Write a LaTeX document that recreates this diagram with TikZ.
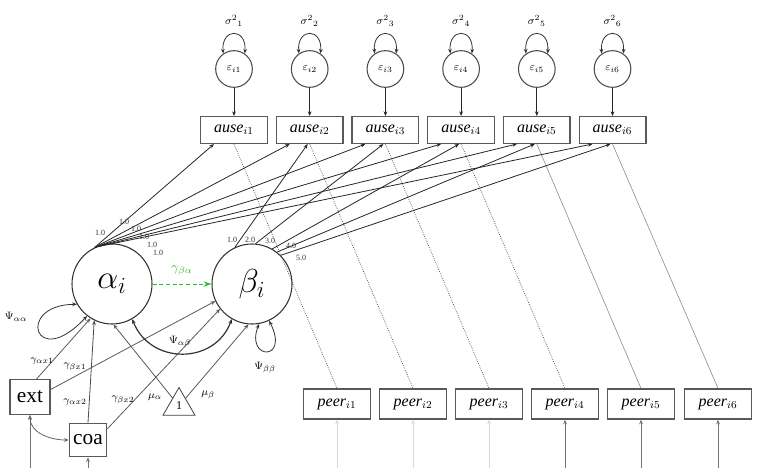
\documentclass[tikz,border=0pt]{standalone}
\usepackage{fontspec}
\setmainfont{Liberation Serif}
\usepackage{tikz}
\usetikzlibrary{arrows.meta,calc,positioning,shapes.geometric}
\definecolor{grn}{RGB}{40,190,40}

\begin{document}
\begin{tikzpicture}[x=0.75pt,y=0.75pt,
  >={Stealth[length=3.5pt,width=2.8pt]},
  lat/.style={circle,draw=black!80,line width=0.8pt,minimum size=60pt,inner sep=0pt},
  err/.style={circle,draw=black!70,line width=0.8pt,minimum size=27.5pt,inner sep=0pt,font=\fontsize{8}{8}\selectfont},
  obs/.style={rectangle,draw=black!65,line width=1pt,minimum width=50pt,minimum height=20pt,inner sep=1pt,font=\fontsize{12}{12}\selectfont},
  cov/.style={<->,black!80,line width=0.6pt},
  path/.style={->,black!85,line width=0.6pt},
  lbl/.style={font=\fontsize{8.5}{8.5}\selectfont,inner sep=0pt},
  ld/.style={font=\fontsize{6}{6}\selectfont,inner sep=0pt,text=black!80}]

\useasboundingbox (0,0) rectangle (760,-468);

% growth factors
\node[lat] (alpha) at (112,-284) {\fontsize{26}{26}\selectfont$\alpha_i$};
\node[lat] (beta) at (252,-284) {\fontsize{26}{26}\selectfont$\beta_i$};
\draw[->,grn,densely dashed,line width=0.6pt,>={Stealth[length=6pt,width=4pt]}] (alpha) -- (beta)
  node[midway,above=6pt,font=\fontsize{10}{10}\selectfont,inner sep=0pt,text=grn] (gba) {$\gamma_{\beta\alpha}$};

% residuals and outcomes
\foreach \k in {1,...,6}{
  \pgfmathsetmacro{\xx}{234+75.7*(\k-1)}
  \node[err] (e\k) at (\xx,-69) {$\varepsilon_{i\k}$};
  \node[obs] (a\k) at (\xx,-130) {\textit{ause}$_{i\k}$};
  \node[lbl] (s\k) at (\xx,-21) {$\sigma^{2}{}_{\k}$};
  \draw[path] (e\k) -- (a\k);
  \draw[cov] (e\k.125) .. controls +(-2,26) and +(2,26) .. (e\k.55);
}

% peer scores
\foreach \k/\xx in {1/337,2/413,3/489,4/565,5/641,6/718}{
  \node[obs,minimum height=22.5pt] (p\k) at (\xx,-404) {\textit{peer}$_{i\k}$};
  \coordinate (pin\k) at (\xx,-468);
}
\foreach \k/\c in {1/15,2/15,3/15,4/55,5/55,6/55} \draw[->,black!\c,line width=0.5pt] (pin\k) -- (p\k);
\foreach \k in {1,...,4} \draw[densely dotted,black!80,line width=0.5pt] (a\k.south) -- (p\k.north);
\foreach \k in {5,6} \draw[black!50,line width=0.4pt] (a\k.south) -- (p\k.north);

% loadings
\foreach \k in {1,...,6} \draw[path] (alpha.115) -- ([xshift=-15pt]a\k.south);
\foreach \k/\ang in {2/115,3/85,4/60,5/52,6/45} \draw[path] (beta.\ang) -- ([xshift=-1.5pt]a\k.south);
\foreach \xx/\yy in {100/233,124/222,136/229,144/237,152/245,158/253} \node[ld] at (\xx,-\yy) {1.0};
\node[ld] (b2) at (232,-240) {1.0};
\node[ld] (b3) at (250,-240) {2.0};
\node[ld] (b4) at (270,-241) {3.0};
\node[ld] (b5) at (291,-246) {4.0};
\node[ld] (b6) at (301,-258) {5.0};

% covariates
\node[obs,minimum width=30pt,minimum height=26pt,font=\fontsize{16}{16}\selectfont] (ext) at (30,-397) {ext};
\node[obs,minimum width=28pt,minimum height=25pt,font=\fontsize{16}{16}\selectfont] (coa) at (88,-440) {coa};
\node[regular polygon,regular polygon sides=3,draw=black!75,line width=0.6pt,minimum size=27.7pt,inner sep=0pt,font=\fontsize{9}{9}\selectfont] (tri) at (179,-406) {1};
\coordinate (extin) at (30,-468);
\coordinate (coain) at (88,-468);
\draw[->,black!55,line width=0.5pt] (extin) -- (ext);
\draw[->,black!55,line width=0.5pt] (coain) -- (coa);
\draw[cov,black!60] (ext.south) to[out=-90,in=180] (coa.west);

\draw[path,black!65] (ext.70) -- (alpha.238);
\draw[path,black!65] (ext.20) -- (beta.205);
\draw[path,black!70] (coa.north) -- (alpha.244);
\draw[path,black!65] (coa.30) -- (beta.218);
\draw[path,black!65] (tri) -- (alpha.272);
\draw[path,black!65] (tri) -- (beta.265);

% variances
\draw[cov,line width=0.9pt] (alpha.300) .. controls (150,-365) and (215,-365) .. (beta.240);
\draw[cov] (alpha.210) .. controls (15,-305) and (35,-372) .. (alpha.232);
\draw[cov] (beta.280) .. controls (245,-360) and (290,-362) .. (beta.295);

% labels
\node[lbl] (psiaa) at (16,-317) {$\Psi_{\alpha\alpha}$};
\node[lbl] (psibb) at (265,-368) {$\Psi_{\beta\beta}$};
\node[lbl] (psiab) at (180,-342) {$\Psi_{\alpha\beta}$};
\node[lbl] (gax1) at (42,-361) {$\gamma_{\alpha x1}$};
\node[lbl] (gbx1) at (75,-367) {$\gamma_{\beta x1}$};
\node[lbl] (gax2) at (75,-402) {$\gamma_{\alpha x2}$};
\node[lbl] (gbx2) at (123,-400) {$\gamma_{\beta x2}$};
\node[lbl] (mua) at (155,-397) {$\mu_{\alpha}$};
\node[lbl] (mub) at (208,-395) {$\mu_{\beta}$};
\end{tikzpicture}
\end{document}
